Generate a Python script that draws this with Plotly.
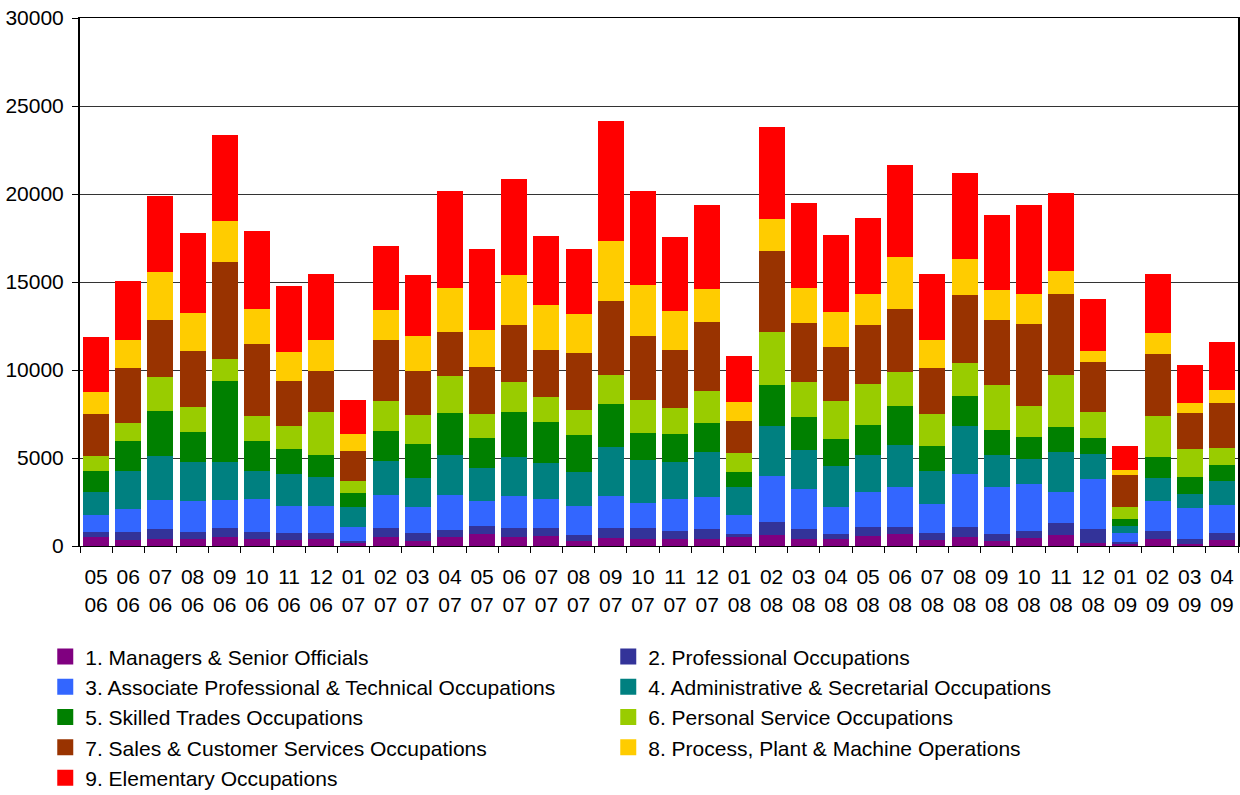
import plotly.graph_objects as go

months = ["05<br>06", "06<br>06", "07<br>06", "08<br>06", "09<br>06", "10<br>06", "11<br>06", "12<br>06",
          "01<br>07", "02<br>07", "03<br>07", "04<br>07", "05<br>07", "06<br>07", "07<br>07", "08<br>07",
          "09<br>07", "10<br>07", "11<br>07", "12<br>07", "01<br>08", "02<br>08", "03<br>08", "04<br>08",
          "05<br>08", "06<br>08", "07<br>08", "08<br>08", "09<br>08", "10<br>08", "11<br>08", "12<br>08",
          "01<br>09", "02<br>09", "03<br>09", "04<br>09"]

managers = [490, 340, 416, 378, 529, 378, 340, 378, 151, 491, 302, 491, 680, 510, 567, 284, 473, 416,
            416, 416, 491, 643, 416, 378, 586, 680, 340, 491, 284, 473, 605, 189, 151, 378, 132, 359]
professional = [300, 454, 529, 435, 492, 435, 416, 378, 151, 530, 454, 416, 454, 511, 473, 340, 529, 605,
                416, 529, 189, 737, 567, 302, 472, 416, 416, 605, 415, 396, 680, 756, 95, 491, 284, 397]
assoc_prof = [980, 1285, 1663, 1757, 1587, 1871, 1531, 1531, 794, 1890, 1474, 1966, 1399, 1814, 1644, 1644,
              1833, 1417, 1814, 1852, 1097, 2608, 2230, 1531, 2023, 2268, 1644, 3005, 2627, 2646, 1796, 2835,
              510, 1701, 1739, 1588]
admin = [1300, 2155, 2533, 2212, 2174, 1587, 1814, 1644, 1134, 1909, 1626, 2287, 1890, 2211, 2022, 1909,
         2778, 2438, 2136, 2533, 1587, 2854, 2249, 2344, 2079, 2382, 1853, 2722, 1834, 1418, 2249, 1474,
         397, 1267, 812, 1360]
skilled = [1170, 1738, 2532, 1720, 4592, 1720, 1399, 1248, 775, 1738, 1965, 2400, 1720, 2571, 2325, 2136,
           2476, 1569, 1606, 1682, 851, 2306, 1871, 1550, 1720, 2211, 1455, 1720, 1417, 1266, 1436, 870,
           359, 1209, 945, 908]
personal = [850, 1040, 1928, 1398, 1229, 1418, 1342, 2438, 699, 1663, 1607, 2079, 1341, 1720, 1417, 1398,
            1607, 1852, 1456, 1795, 1077, 2986, 1966, 2135, 2324, 1947, 1795, 1833, 2590, 1758, 2968, 1512,
            718, 2344, 1588, 964]
sales = [2420, 3118, 3251, 3175, 5512, 4082, 2532, 2343, 1701, 3459, 2513, 2533, 2684, 3194, 2665, 3251,
         4252, 3648, 3288, 3932, 1814, 4643, 3345, 3043, 3346, 3534, 2609, 3875, 3666, 4649, 4592, 2816,
         1815, 3515, 2060, 2570]
process = [1250, 1550, 2734, 2155, 2344, 1985, 1645, 1758, 945, 1739, 2004, 2488, 2098, 2866, 2571, 2211,
           3358, 2885, 2230, 1871, 1097, 1795, 2004, 2004, 1757, 2980, 1587, 2034, 1720, 1720, 1279, 605,
           264, 1172, 567, 699]
elementary = [3137, 3370, 4290, 4567, 4895, 4435, 3735, 3754, 1966, 3641, 3471, 5519, 4605, 5443, 3905, 3717,
              6823, 5330, 4190, 4737, 2608, 5235, 4831, 4378, 4341, 5235, 3755, 4914, 4265, 5040, 4441, 3005,
              1361, 3377, 2174, 2760]

series_names = ["1. Managers & Senior Officials", "2. Professional Occupations",
                "3. Associate Professional & Technical Occupations", "4. Administrative & Secretarial Occupations",
                "5. Skilled Trades Occupations", "6. Personal Service Occupations",
                "7. Sales & Customer Services Occupations", "8. Process, Plant & Machine Operations",
                "9. Elementary Occupations"]
series_values = [managers, professional, assoc_prof, admin, skilled, personal, sales, process, elementary]
colors = ["#800080", "#333399", "#3366FF", "#008080", "#008000", "#99CC00", "#993300", "#FFCC00", "#FF0000"]
y_ticks = [0, 5000, 10000, 15000, 20000, 25000, 30000]

fig = go.Figure()
for name, vals, col in zip(series_names, series_values, colors):
    fig.add_trace(go.Bar(x=months, y=vals, name=name, legendgroup=name, showlegend=False,
                         marker=dict(color=col, line=dict(width=0))))
# legend entries with larger square swatches
for name, col in zip(series_names, colors):
    fig.add_trace(go.Scatter(x=[None], y=[None], mode="markers", name=name, legendgroup=name,
                             marker=dict(symbol="square", size=17, color=col), showlegend=True))

fig.update_layout(
    barmode="stack",
    bargap=0.19,
    width=1240, height=795,
    margin=dict(l=80, r=2, t=18, b=249, autoexpand=False),
    paper_bgcolor="white", plot_bgcolor="white",
    font=dict(family="Liberation Sans, Arial, sans-serif", size=21, color="black"),
    legend=dict(orientation="h", x=-0.030, y=-0.171, xanchor="left", yanchor="top",
                traceorder="normal", entrywidth=518, font=dict(size=21),
                itemwidth=30, tracegroupgap=0),
    showlegend=True,
)
fig.update_xaxes(type="category", showline=True, linecolor="black", linewidth=1, mirror=True,
                 ticks="outside", tickson="boundaries", ticklen=6, tickcolor="black", tickangle=0,
                 tickfont=dict(size=21), ticklabelstandoff=12, showgrid=False, automargin=False)
fig.update_yaxes(range=[0, 30000], tickvals=y_ticks, tickformat="d", showline=True, linecolor="black",
                 linewidth=2, mirror=True, ticks="outside", ticklen=6, tickcolor="black", showgrid=True,
                 gridcolor="#333333", gridwidth=1, zeroline=False, tickfont=dict(size=21),
                 ticklabelstandoff=4, automargin=False)

fig.write_html("out.html", config={"displayModeBar": False},
               post_script="document.body.style.margin='0';document.body.style.overflow='hidden';")
